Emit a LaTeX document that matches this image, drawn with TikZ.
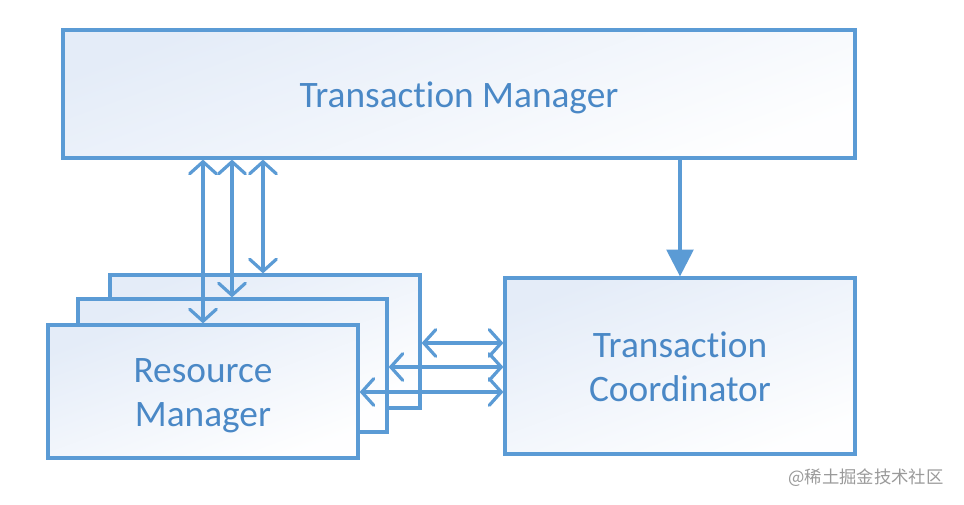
\documentclass[tikz,border=0pt]{standalone}
\usepackage{fontspec}
\setmainfont{Carlito}[Ligatures=NoCommon]
\newfontfamily\cjk{Noto Sans CJK SC}
\usetikzlibrary{arrows.meta}
\definecolor{lineblue}{HTML}{5B9BD5}
\definecolor{textblue}{HTML}{4A88C6}
\definecolor{fillblue}{HTML}{E4ECF8}
\definecolor{wmgray}{HTML}{9A9A9A}
\begin{document}
\begin{tikzpicture}[x=0.75pt,y=-0.75pt,
  box/.style={draw=lineblue, line width=2.4pt, inner sep=0pt,
    shading=axis, top color=fillblue, bottom color=white!96!fillblue, shading angle=20},
  boxtext/.style={text=textblue, font=\fontsize{28}{33}\selectfont, align=center, inner sep=0pt},
  biarrow/.style={draw=lineblue, line width=2.4pt, line cap=round,
    {Straight Barb[length=9pt,width=20pt,line cap=round]}-{Straight Barb[length=9pt,width=20pt,line cap=round]}},
  onearrow/.style={draw=lineblue, line width=2.4pt,
    -{Triangle[length=20pt,width=20pt]}}
]
\useasboundingbox (0,0) rectangle (964,505);
\fill[white] (0,0) rectangle (964,505);

\node[box, minimum width={792*0.75pt}, minimum height={128*0.75pt},
  label={[boxtext, yshift=-3pt]center:Transaction Manager}] (tm) at (459,94) {};

\node[box, minimum width={310*0.75pt}, minimum height={133*0.75pt}] (rm1) at (265,341.5) {};
\node[box, minimum width={309*0.75pt}, minimum height={133*0.75pt}] (rm2) at (232.5,365.5) {};
\node[box, minimum width={310*0.75pt}, minimum height={133*0.75pt},
  label={[boxtext, yshift=-3pt]center:{Resource\\Manager}}] (rm3) at (203,391.5) {};

\node[box, minimum width={350*0.75pt}, minimum height={176*0.75pt},
  label={[boxtext, yshift=-0.8pt]center:{Transaction\\Coordinator}}] (tc) at (680,366) {};

\coordinate (v1) at (203,0);
\coordinate (v2) at (232,0);
\coordinate (v3) at (263,0);
\coordinate (v4) at (680,0);
\coordinate (h1) at (0,343);
\coordinate (h2) at (0,367);
\coordinate (h3) at (0,392);

\draw[biarrow] (tm.south -| v1) -- (rm3.north -| v1);
\draw[biarrow] (tm.south -| v2) -- (rm2.north -| v2);
\draw[biarrow] (tm.south -| v3) -- (rm1.north -| v3);

\draw[onearrow] (tm.south -| v4) -- (tc.north -| v4);

\draw[biarrow] (rm1.east |- h1) -- (tc.west |- h1);
\draw[biarrow] (rm2.east |- h2) -- (tc.west |- h2);
\draw[biarrow] (rm3.east |- h3) -- (tc.west |- h3);

\node[text=wmgray, font=\cjk\fontsize{13}{15}\selectfont] (wm) at (866,478) {@稀土掘金技术社区};
\end{tikzpicture}
\end{document}
